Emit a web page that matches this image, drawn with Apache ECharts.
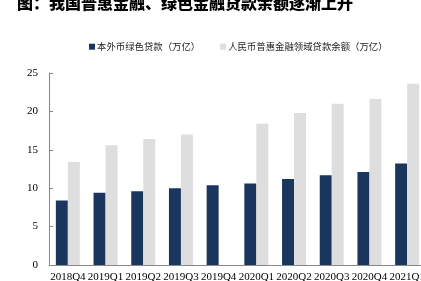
<!DOCTYPE html>
<html><head><meta charset="utf-8">
<script src="https://cdn.jsdelivr.net/npm/echarts@6/dist/echarts.min.js"></script>
<style>html,body{margin:0;padding:0;background:#fff}#c{width:421px;height:281px}</style>
</head><body><div id="c"></div>
<script>
const categories = ['2018Q4','2019Q1','2019Q2','2019Q3','2019Q4','2020Q1','2020Q2','2020Q3','2020Q4','2021Q1'];
const greenLoans = [8.4, 9.4, 9.6, 10.0, 10.4, 10.6, 11.2, 11.7, 12.1, 13.2];
const inclusiveLoans = [13.4, 15.6, 16.4, 17.0, null, 18.4, 19.8, 21.0, 21.6, 23.6];
const yTicks = [0, 5, 10, 15, 20, 25];
const titleText = '图：我国普惠金融、绿色金融贷款余额逐渐上升';
const seriesNames = ['本外币绿色贷款（万亿）', '人民币普惠金融领域贷款余额（万亿）'];

const chart = echarts.init(document.getElementById('c'), null, {renderer: 'canvas'});
const serif = "'Liberation Serif', 'DejaVu Serif', serif";
chart.setOption({
  animation: false,
  title: {
    text: titleText, left: 12, top: -10,
    textStyle: {fontSize: 16, fontWeight: 900, color: '#000', fontFamily: "'Noto Sans CJK SC', sans-serif"}
  },
  legend: {
    top: 37, left: 84, itemWidth: 6, itemHeight: 6, itemGap: 20,
    icon: 'rect',
    textStyle: {fontSize: 9.4, color: '#222', fontFamily: "'Noto Sans CJK SC', sans-serif", padding: [0,0,0,-3]},
    data: seriesNames
  },
  grid: {left: 49, top: 73, width: 377, bottom: 16, containLabel: false, outerBoundsMode: 'none'},
  xAxis: {
    type: 'category', data: categories,
    axisLine: {lineStyle: {color: '#888'}},
    axisTick: {inside: true, length: 4, lineStyle: {color: '#888'}},
    axisLabel: {fontSize: 11, color: '#000', fontFamily: serif, margin: 7, interval: 0, hideOverlap: false}
  },
  yAxis: {
    type: 'value', min: yTicks[0], max: yTicks[yTicks.length-1], interval: 5,
    axisLine: {show: true, lineStyle: {color: '#888'}},
    axisTick: {show: true, inside: true, length: 4, lineStyle: {color: '#888'}},
    splitLine: {show: false},
    axisLabel: {fontSize: 11, color: '#000', fontFamily: serif, margin: 11}
  },
  series: [
    {name: seriesNames[0], type: 'bar', data: greenLoans, barWidth: 12, barGap: '0%',
     itemStyle: {color: '#1b365d'}},
    {name: seriesNames[1], type: 'bar', data: inclusiveLoans, barWidth: 12,
     itemStyle: {color: '#dedede'}}
  ]
});
</script></body></html>
